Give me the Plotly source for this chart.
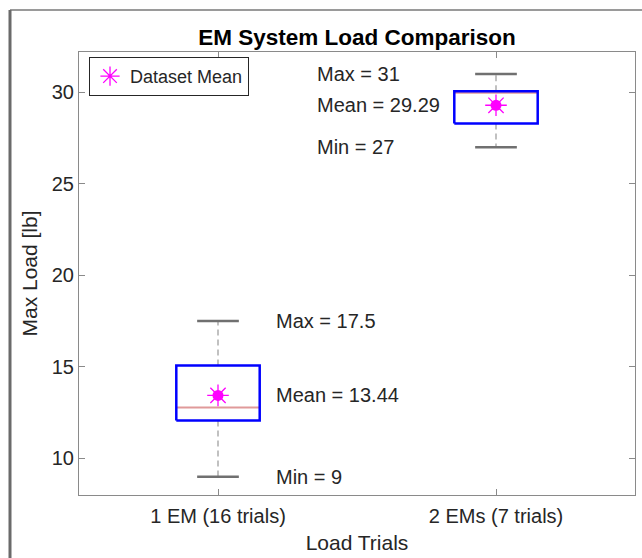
import plotly.graph_objects as go

# ---- data ----
categories = ["1 EM (16 trials)", "2 EMs (7 trials)"]
positions = [1, 2]
mins = [9.0, 27.0]
q1s = [12.07, 28.3]
medians = [12.78, 29.98]
q3s = [15.08, 30.05]
maxs = [17.5, 31.0]
means = [13.44, 29.29]
label_x = [1.2, 1.35]
y_ticks = [10, 15, 20, 25, 30]

BOX_HW = 0.15
CAP_HW = 0.075
FONT = "Liberation Sans, Arial, Helvetica, sans-serif"
TXT = "#262626"

fig = go.Figure()

for i, p in enumerate(positions):
    # whiskers (dashed)
    fig.add_trace(go.Scatter(
        x=[p, p, None, p, p], y=[q3s[i], maxs[i], None, q1s[i], mins[i]],
        mode="lines", line=dict(color="#a0a0a0", width=1.3, dash="6px,4px"),
        showlegend=False, hoverinfo="skip"))
    # caps
    fig.add_trace(go.Scatter(
        x=[p - CAP_HW, p + CAP_HW, None, p - CAP_HW, p + CAP_HW],
        y=[maxs[i], maxs[i], None, mins[i], mins[i]],
        mode="lines", line=dict(color="#707070", width=2.5),
        showlegend=False, hoverinfo="skip"))
    # median
    fig.add_trace(go.Scatter(
        x=[p - BOX_HW, p + BOX_HW], y=[medians[i], medians[i]],
        mode="lines", line=dict(color="#e09a9a", width=2),
        showlegend=False, hoverinfo="skip"))
    # box
    fig.add_trace(go.Scatter(
        x=[p - BOX_HW, p + BOX_HW, p + BOX_HW, p - BOX_HW, p - BOX_HW],
        y=[q1s[i], q1s[i], q3s[i], q3s[i], q1s[i]],
        mode="lines", line=dict(color="#0000ff", width=2.5),
        showlegend=False, hoverinfo="skip"))

# mean markers
fig.add_trace(go.Scatter(
    x=positions, y=means, mode="markers",
    marker=dict(symbol="circle", size=11, color="#ff00ff"),
    showlegend=False, hoverinfo="skip"))
fig.add_trace(go.Scatter(
    x=positions, y=means, mode="markers", name="Dataset Mean",
    marker=dict(symbol="asterisk-open", size=18, color="#ff00ff",
                line=dict(color="#ff00ff", width=1.3))))

# labels
for i, p in enumerate(positions):
    for val, txt in [(maxs[i], f"Max = {maxs[i]:g}"),
                     (means[i], f"Mean = {means[i]:.2f}"),
                     (mins[i], f"Min = {mins[i]:g}")]:
        fig.add_annotation(x=label_x[i], y=val, text=txt, showarrow=False,
                           xanchor="left", yanchor="middle",
                           font=dict(family=FONT, size=20, color=TXT))

# outer figure frame (partial window border)
fig.add_shape(type="line", xref="paper", yref="paper",
              x0=(10 - 79) / 556, x1=1.2, y0=(495 - 10) / 443, y1=(495 - 10) / 443,
              line=dict(color="#9a9a9a", width=2))
fig.add_shape(type="line", xref="paper", yref="paper",
              x0=(10 - 79) / 556, x1=(10 - 79) / 556, y0=(495 - 10) / 443, y1=-0.2,
              line=dict(color="#6a6a6a", width=3))

axis_common = dict(showline=True, linecolor="#8a8a8a", linewidth=1.2, mirror="ticks",
                   ticks="inside", ticklen=6, tickcolor="#8a8a8a", showgrid=False,
                   zeroline=False, automargin=False,
                   tickfont=dict(family=FONT, size=20, color=TXT))

fig.update_layout(
    width=642, height=558,
    margin=dict(l=79, r=7, t=52, b=63),
    paper_bgcolor="white", plot_bgcolor="white",
    title=dict(text="<b>EM System Load Comparison</b>", x=0.5, xref="paper",
               xanchor="center", y=1 - 37 / 558, yanchor="middle",
               font=dict(family=FONT, size=22.5, color="black")),
    xaxis=dict(range=[0.5, 2.5], tickvals=positions, ticktext=categories,
               ticklabelstandoff=3,
               title=dict(text="Load Trials", standoff=9,
                          font=dict(family=FONT, size=21, color=TXT)),
               **axis_common),
    yaxis=dict(range=[8.0, 32.2], tickvals=y_ticks,
               title=dict(text="Max Load [lb]", standoff=8,
                          font=dict(family=FONT, size=21, color=TXT)),
               **axis_common),
    legend=dict(x=0.018, y=0.989, xanchor="left", yanchor="top",
                bgcolor="white", bordercolor="#262626", borderwidth=1,
                font=dict(family=FONT, size=18, color=TXT),
                itemwidth=30, tracegroupgap=0),
    showlegend=True,
)

fig.write_html("out.html")
